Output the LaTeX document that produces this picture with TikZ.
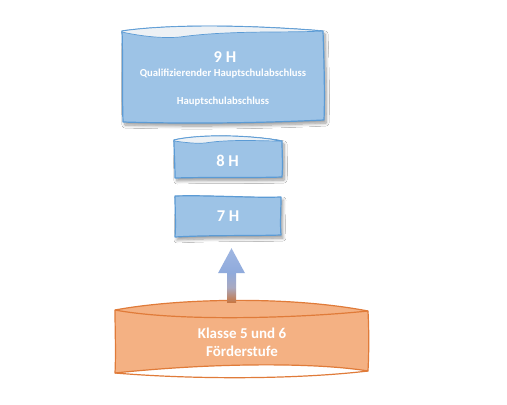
\documentclass[tikz,border=0pt]{standalone}
\usepackage{fontspec}
\setmainfont{Carlito}
\usetikzlibrary{calc,shadows.blur}
\definecolor{bfill}{HTML}{9DC3E6}
\definecolor{bline}{HTML}{5B9BD5}
\definecolor{bcres}{HTML}{EDF1F5}
\definecolor{ofill}{HTML}{F4B183}
\definecolor{oline}{HTML}{E07B39}
\definecolor{atop}{HTML}{8FAADC}
\definecolor{amid}{HTML}{A9A9C0}
\definecolor{abot}{HTML}{C8743E}
\begin{document}
\begin{tikzpicture}[x=1pt,y=-1pt,
  bluebox/.style={fill=bfill,draw=bline,line width=1.2pt,line join=round},
  crescent/.style={fill=bcres,draw=bline,line width=0.7pt},
  orangebox/.style={fill=ofill,draw=oline,line width=1.2pt,line join=round},
  bshadow/.style={blur shadow={shadow xshift=2pt,shadow yshift=-3pt,shadow blur steps=8,shadow blur radius=3pt,shadow opacity=40}},
  lbl/.style={text=white,align=center,inner sep=0pt},
  big/.style={font=\bfseries\fontsize{15}{18}\selectfont},
  hlbl/.style={font=\bfseries\fontsize{16.5}{18}\selectfont},
  small/.style={font=\bfseries\fontsize{10.7}{12}\selectfont},
  area/.style={draw=none,inner sep=0pt}
]
\useasboundingbox (0,0) rectangle (507,405);
\fill[white] (0,0) rectangle (507,405);

% ---- 9 H box
\path[bluebox,bshadow] (122,31) .. controls (170,24) and (250,25) .. (323,31)
  .. controls (324,60) and (325,95) .. (324,120)
  .. controls (260,123) and (190,124) .. (123,122)
  .. controls (122,90) and (123,60) .. (122,31) -- cycle;
\path[crescent] (122,31) .. controls (170,24) and (250,25) .. (323,31)
  .. controls (290,33) and (230,30) .. (180,37)
  .. controls (160,39) and (135,35) .. (122,32) -- cycle;
\node[lbl,hlbl] (t9) at (225,57) {9 H};
\node[lbl,small] (q9) at (223,73.5) {Qualifizierender Hauptschulabschluss};
\node[lbl,small] (h9) at (223,102) {Hauptschulabschluss};

% ---- 8 H box
\path[bluebox,bshadow] (174,140) .. controls (200,134) and (250,135) .. (282,141)
  .. controls (282,152) and (283,165) .. (282,177)
  .. controls (250,178) and (210,177) .. (175,178)
  .. controls (175,165) and (174,152) .. (174,140) -- cycle;
\path[crescent] (174,140) .. controls (200,134) and (250,135) .. (282,141)
  .. controls (260,141) and (230,139) .. (205,143)
  .. controls (195,144) and (182,142) .. (174,141) -- cycle;
\node[lbl,hlbl] (b8) at (227.5,161) {8 H};

% ---- 7 H box
\path[bluebox,bshadow] (175,196) .. controls (210,195) and (250,198) .. (281,197)
  .. controls (281,210) and (280,224) .. (281,235)
  .. controls (250,236) and (210,235) .. (175,237)
  .. controls (176,224) and (175,210) .. (175,196) -- cycle;
\node[lbl,hlbl,area,minimum width=106pt,minimum height=40pt] (b7) at (228,216.5) {7 H};

% ---- orange box
\path[orangebox] (115,310) .. controls (180,298) and (290,296) .. (368,311)
  .. controls (369,330) and (369,352) .. (368,371)
  .. controls (320,363) and (220,362) .. (115,373)
  .. controls (116,352) and (115,330) .. (115,310) -- cycle;
\draw[oline,line width=1.2pt] (115,310) .. controls (180,322) and (300,318) .. (368,311);
\draw[oline,line width=1.2pt] (115,373) .. controls (200,380) and (300,379) .. (368,371);
\node[lbl,big,area,minimum width=252pt,minimum height=62pt] (bk) at (242,342) {Klasse 5 und 6\\Förderstufe};

% ---- arrow from orange box to 7 H
\coordinate (atip) at ($(b7.south)+(3.5,11.5)$);
\coordinate (abase) at ($(bk.north)+(-10.5,-8)$);
\shade[top color=atop,bottom color=abot,middle color=amid]
  ($(atip)+(-4.5,24)$) -- ($(atip)+(4.5,24)$) -- ($(abase)+(4.5,0)$) -- ($(abase)+(-4.5,0)$) -- cycle;
\shade[top color=atop!85!white,bottom color=atop]
  (atip) -- ($(atip)+(13.5,25)$) -- ($(atip)+(-13.5,25)$) -- cycle;
\end{tikzpicture}
\end{document}
